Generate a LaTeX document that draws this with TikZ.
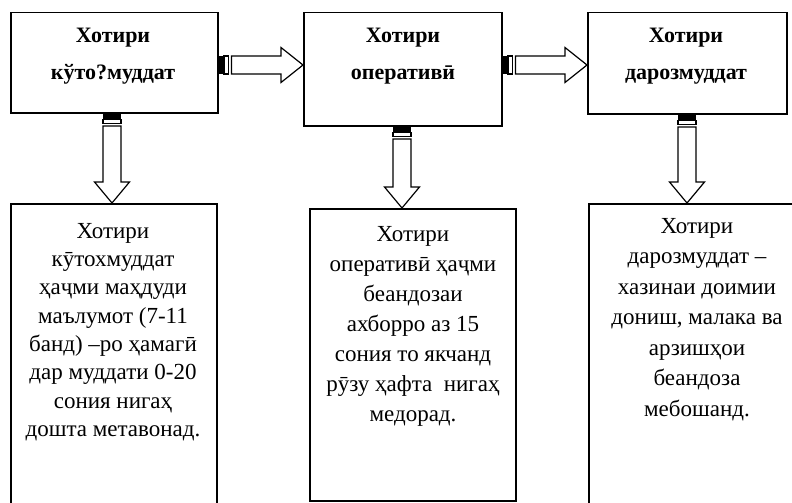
\documentclass[tikz,border=0pt]{standalone}
\usepackage{fontspec}
\setmainfont{Liberation Serif}
\usetikzlibrary{calc}
\tikzset{
  box/.style={draw, line width=1.5pt, rectangle, anchor=north west, inner sep=0pt},
  title/.style={anchor=north, inner sep=0pt, align=center, font=\fontsize{22}{37}\selectfont\bfseries},
  body/.style={anchor=north, inner sep=0pt, align=center, font=\fontsize{23}{29}\selectfont},
  arrline/.style={draw, line width=1.2pt, fill=white, line join=miter},
}
\newcommand\stripedright[2]{%
  \fill let \p1=(#1) in (\x1,\y1-9pt) rectangle (\x1+4.5pt,\y1+9pt);
  \draw[arrline] let \p1=(#1) in (\x1+5.5pt,\y1-9pt) rectangle (\x1+10pt,\y1+9pt);
  \draw[arrline] let \p1=(#1), \p2=(#2) in
    (\x1+13pt,\y1+9pt) -- (\x2-22pt,\y1+9pt) -- (\x2-22pt,\y1+17.5pt) -- (\x2,\y1)
    -- (\x2-22pt,\y1-17.5pt) -- (\x2-22pt,\y1-9pt) -- (\x1+13pt,\y1-9pt) -- cycle;
}
\newcommand\stripeddown[2]{%
  \fill let \p1=(#1) in (\x1-9pt,\y1) rectangle (\x1+9pt,\y1-5pt);
  \draw[arrline] let \p1=(#1) in (\x1-9pt,\y1-6pt) rectangle (\x1+9pt,\y1-10pt);
  \draw[arrline] let \p1=(#1), \p2=(#2) in
    (\x1-9pt,\y1-12.5pt) -- (\x1-9pt,\y2+21pt) -- (\x1-17.5pt,\y2+21pt) -- (\x1,\y2)
    -- (\x1+17.5pt,\y2+21pt) -- (\x1+9pt,\y2+21pt) -- (\x1+9pt,\y1-12.5pt) -- cycle;
}
\begin{document}
\begin{tikzpicture}[x=1pt,y=-1pt]
\useasboundingbox[fill=white] (0,0) rectangle (792,503);
% boxes
\node[box, minimum width=207pt, minimum height=100pt] (b1) at (10,12) {};
\node[box, minimum width=198pt, minimum height=113pt] (b2) at (303,12) {};
\node[box, minimum width=199pt, minimum height=101pt] (b3) at (587,12) {};
\node[box, minimum width=206pt, minimum height=327pt] (b4) at (10,203) {};
\node[box, minimum width=206pt, minimum height=292pt] (b5) at (309,208) {};
\node[box, minimum width=212pt, minimum height=327pt] (b6) at (588,203) {};
% titles
\node[title] (t1) at (113,28) {Хотири\\кўто?муддат};
\node[title] (t2) at (403,28) {Хотири\\оперативӣ};
\node[title] (t3) at (686,28) {Хотири\\дарозмуддат};
% bodies
\node[body, font=\fontsize{23}{28.3}\selectfont] (t4) at (113,223) {Хотири\\кӯтохмуддат\\ҳаҷми маҳдуди\\маълумот (7-11\\банд) –ро ҳамагӣ\\дар муддати 0-20\\сония нигаҳ\\дошта метавонад.};
\node[body, font=\fontsize{23}{30}\selectfont] (t5) at (413,226) {Хотири\\оперативӣ ҳаҷми\\беандозаи\\ахборро аз 15\\сония то якчанд\\рӯзу ҳафта\ \ нигаҳ\\медорад.};
\node[body, font=\fontsize{23}{30.5}\selectfont] (t6) at (697,218) {Хотири\\дарозмуддат –\\хазинаи доимии\\дониш, малака ва\\арзишҳои\\беандоза\\мебошанд.};
% connectors
\stripedright{b1.east |- 0,65}{b2.west |- 0,65}
\stripedright{b2.east |- 0,65}{b3.west |- 0,65}
\stripeddown{b1.south -| 112,0}{b4.north -| 112,0}
\stripeddown{b2.south -| 402,0}{b5.north -| 402,0}
\stripeddown{b3.south -| 687,0}{b6.north -| 687,0}
\end{tikzpicture}
\end{document}
